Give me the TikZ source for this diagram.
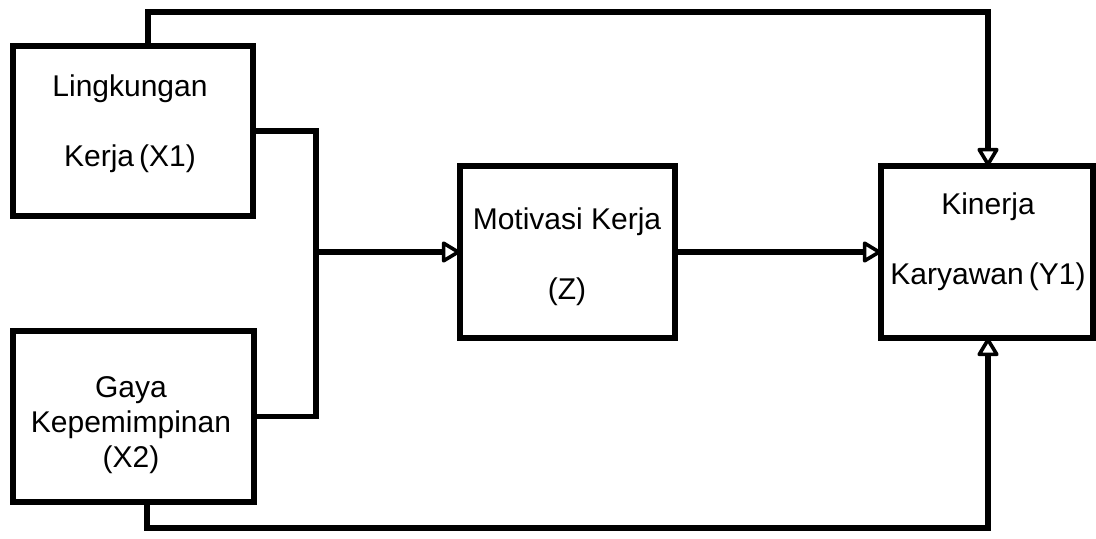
\documentclass[tikz,border=0pt]{standalone}
\usepackage{fontspec}
\setmainfont{Liberation Sans}
\usetikzlibrary{arrows.meta}

\tikzset{
  box/.style={draw=black, line width=3pt, fill=white, inner sep=0pt, outer sep=0pt},
  label/.style={font=\fontsize{15}{17.5}\selectfont, align=center, inner sep=0pt},
  widelabel/.style={font=\fontsize{15}{35}\selectfont, align=center, inner sep=0pt},
  conn/.style={draw=black, line width=2.6pt, line join=miter},
  tip/.style={-{Triangle[length=10pt, width=11.5pt, fill=white, line width=1.8pt, round]}}
}

\begin{document}
\begin{tikzpicture}[x=0.5pt, y=-0.5pt]
  \useasboundingbox (0,0) rectangle (1096,538);
  \fill[white] (0,0) rectangle (1096,538);

  % blocks
  \node[box, minimum width=120pt, minimum height=85pt]   (x1) at (133,131)   {};
  \node[box, minimum width=120.5pt, minimum height=85.5pt] (x2) at (133.5,416.5) {};
  \node[box, minimum width=107.5pt, minimum height=86pt] (z)  at (567.5,252) {};
  \node[box, minimum width=106pt, minimum height=86pt]   (y1) at (987,252)   {};

  % block texts
  \node[widelabel] (x1t) at (130,124) {Lingkungan\\Kerja\,(X1)};
  \node[label]     (x2t) at (131,425) {Gaya\\Kepemimpinan\\(X2)};
  \node[widelabel] (zt)  at (567,257) {Motivasi Kerja\\(Z)};
  \node[widelabel] (y1t) at (988,242) {Kinerja\\Karyawan\,(Y1)};

  % routing points
  \coordinate (tl) at (148,12);
  \coordinate (tr) at (988,12);
  \coordinate (bl) at (147,528);
  \coordinate (br) at (988,528);
  \coordinate (jx) at (316,252);

  % connectors
  \draw[conn, tip] (x1.north -| tl) -- (tl) -- (tr) -- (y1.north -| tr);
  \draw[conn] (x1.east) -| (jx |- x2.east) -- (x2.east);
  \draw[conn, tip] (jx |- z.west) -- (z.west);
  \draw[conn, tip] (z.east) -- (y1.west);
  \draw[conn, tip] (x2.south -| bl) -- (bl) -- (br) -- (y1.south -| br);
\end{tikzpicture}
\end{document}
